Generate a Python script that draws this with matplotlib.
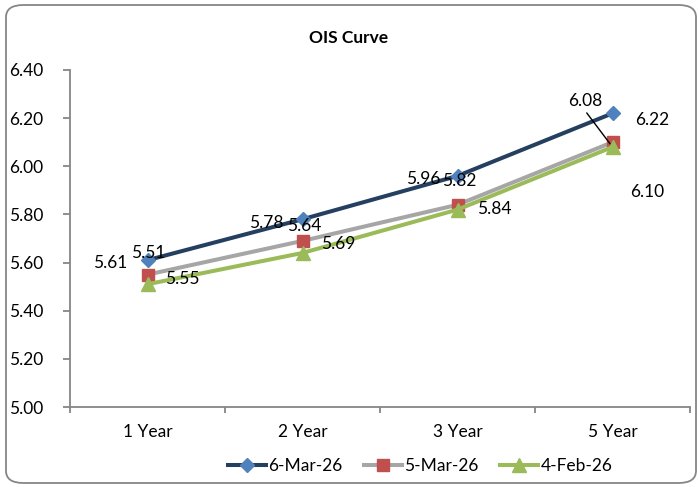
import matplotlib
matplotlib.use("Agg")
import matplotlib.pyplot as plt
from matplotlib.patches import FancyBboxPatch

plt.rcParams['font.family'] = ['Lato', 'DejaVu Sans']

# Tenors and OIS rates (%)
tenors = ["1 Year", "2 Year", "3 Year", "5 Year"]
mar6 = [5.61, 5.78, 5.96, 6.22]
mar5 = [5.55, 5.69, 5.84, 6.10]
feb4 = [5.51, 5.64, 5.82, 6.08]
series_names = ["6-Mar-26", "5-Mar-26", "4-Feb-26"]
yticks = [5.00, 5.20, 5.40, 5.60, 5.80, 6.00, 6.20, 6.40]

W, H = 698, 487
fig = plt.figure(figsize=(W / 100, H / 100), dpi=100)

# rounded chart border
border = FancyBboxPatch((6 / W, 4 / H), 690 / W, 478 / H,
                        boxstyle="round,pad=0,rounding_size=0.025",
                        transform=fig.transFigure, facecolor="none",
                        edgecolor="#868686", linewidth=1.3, zorder=-1)
fig.patches.append(border)

ax = fig.add_axes([70 / W, (H - 407) / H, 620 / W, 337 / H])
ax.set_facecolor("none")
x = list(range(len(tenors)))

ax.plot(x, mar6, color="#243F60", lw=2.9, marker="D", ms=7.5,
        mfc="#4F81BD", mec="#4F81BD", label=series_names[0], zorder=3)
ax.plot(x, mar5, color="#A6A6A6", lw=2.9, marker="s", ms=9,
        mfc="#C0504D", mec="#C0504D", label=series_names[1], zorder=4)
ax.plot(x, feb4, color="#9BBB59", lw=2.9, marker="^", ms=10,
        mfc="#9BBB59", mec="#9BBB59", label=series_names[2], zorder=5)

ax.set_xlim(-0.5, 3.5)
ax.set_ylim(5.0, 6.4)
ax.set_yticks(yticks)
ax.set_yticklabels([f"{v:.2f}" for v in yticks])
ax.set_xticks(x)
ax.set_xticklabels(tenors)
ax.set_xticks([-0.5, 0.5, 1.5, 2.5, 3.5], minor=True)

for side in ("top", "right"):
    ax.spines[side].set_visible(False)
for side in ("left", "bottom"):
    ax.spines[side].set_color("#868686")
    ax.spines[side].set_linewidth(1.3)

ax.tick_params(axis="y", direction="out", length=5, color="#868686",
               width=1.3, labelsize=12.5, pad=14)
ax.tick_params(axis="x", which="major", length=0, labelsize=12.5, pad=12)
ax.tick_params(axis="x", which="minor", direction="out", length=4,
               color="#868686", width=1.3)

# data labels (offsets in pixels from each point)
lab6 = [(-37, -3), (-36, -4), (-34, -3), (40, -7)]
lab5 = [(35, -4), (36, -3), (37, -4), (35, -50)]
lab4 = [(1, 31), (2, 27), (2, 29), (-27, 46)]
for vals, offs in ((mar6, lab6), (mar5, lab5), (feb4[:3], lab4[:3])):
    for i, (v, o) in enumerate(zip(vals, offs)):
        ax.annotate(f"{v:.2f}", (i, v), xytext=o, textcoords="offset pixels",
                    ha="center", va="center", fontsize=12.5, zorder=6)
ax.annotate(f"{feb4[3]:.2f}", (3, feb4[3]), xytext=lab4[3],
            textcoords="offset pixels", ha="center", va="center",
            fontsize=12.5, zorder=6,
            arrowprops=dict(arrowstyle="-", color="black", lw=1,
                            relpos=(0.45, 0.0), shrinkA=1, shrinkB=3))

fig.text(349 / W, (H - 38) / H, "OIS Curve", fontsize=12.5,
         fontweight="bold", ha="center", va="center")

fig.legend(loc="center", bbox_to_anchor=(420 / W, (H - 466) / H), ncol=3,
           frameon=False, fontsize=12.5, handlelength=2.2, handletextpad=0.15,
           columnspacing=1.2)

fig.savefig("out.png", dpi=100)
